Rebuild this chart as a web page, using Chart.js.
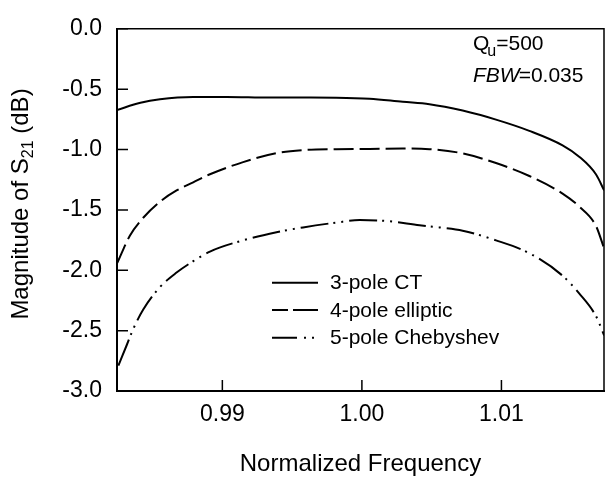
<!DOCTYPE html>
<html><head><meta charset="utf-8">
<script src="https://cdn.jsdelivr.net/npm/chart.js@4/dist/chart.umd.min.js"></script>
<style>html,body{margin:0;padding:0;background:#fff}canvas{display:block}</style>
</head><body>
<canvas id="c" width="605" height="479"></canvas>
<script>
// ---- data ----
const freqCT = [0.98245, 0.98413, 0.98553, 0.98791, 0.99030, 0.99340, 0.99578, 0.99817, 1.00055, 1.00293, 1.00484, 1.00722, 1.00961, 1.01200, 1.01438, 1.01557, 1.01677, 1.01736];
const magCT  = [-0.672, -0.613, -0.584, -0.565, -0.565, -0.570, -0.570, -0.571, -0.579, -0.605, -0.624, -0.677, -0.752, -0.845, -0.965, -1.059, -1.205, -1.338];

const freqEll = [0.98247, 0.98338, 0.98433, 0.98553, 0.98672, 0.98791, 0.98911, 0.99149, 0.99388, 0.99578, 0.99817, 1.00055, 1.00293, 1.00484, 1.00722, 1.00961, 1.01200, 1.01438, 1.01557, 1.01677, 1.01736];
const magEll  = [-1.939, -1.712, -1.565, -1.432, -1.339, -1.272, -1.205, -1.104, -1.030, -1.005, -0.997, -0.995, -0.992, -0.997, -1.032, -1.112, -1.219, -1.365, -1.472, -1.632, -1.819];

const freqCheb = [0.98255, 0.98315, 0.98362, 0.98433, 0.98553, 0.98672, 0.98791, 0.98911, 0.99149, 0.99388, 0.99578, 0.99817, 0.99984, 1.00175, 1.00413, 1.00556, 1.00722, 1.00961, 1.01200, 1.01438, 1.01557, 1.01677, 1.01736];
const magCheb  = [-2.790, -2.619, -2.485, -2.325, -2.139, -2.019, -1.925, -1.845, -1.752, -1.685, -1.645, -1.605, -1.584, -1.592, -1.627, -1.645, -1.672, -1.752, -1.859, -2.045, -2.192, -2.379, -2.539];

const seriesNames = ['3-pole CT', '4-pole elliptic', '5-pole Chebyshev'];
const xTickValues = [0.99, 1.00, 1.01];
const yTickValues = [0.0, -0.5, -1.0, -1.5, -2.0, -2.5, -3.0];
const xRange = [0.98245, 1.01735];
const yRange = [-3.0, 0.0];

// ---- styles ----
const FONT = '"Liberation Sans", Arial, Helvetica, sans-serif';
const dashes = [[], [20, 6], [28, 5, 2, 6, 2, 6]];
const legendDashes = [[], [16, 5, 30], [25, 7, 2, 6, 2, 20]];

function pts(xs, ys) { return xs.map((x, i) => ({ x: x, y: ys[i] })); }

const decor = {
  id: 'decor',
  afterDraw(chart) {
    const ctx = chart.ctx;
    const a = chart.chartArea;
    const xs = chart.scales.x, ys = chart.scales.y;
    ctx.save();
    ctx.strokeStyle = '#000';
    ctx.fillStyle = '#000';
    // frame top & right
    ctx.lineWidth = 1.5;
    ctx.beginPath();
    ctx.moveTo(a.left, a.top); ctx.lineTo(a.right, a.top); ctx.lineTo(a.right, a.bottom);
    ctx.stroke();
    // inward ticks
    ctx.lineWidth = 1.5;
    ctx.beginPath();
    yTickValues.forEach(v => { const y = ys.getPixelForValue(v); ctx.moveTo(a.left, y); ctx.lineTo(a.left + 11, y); });
    xTickValues.forEach(v => { const x = xs.getPixelForValue(v); ctx.moveTo(x, a.bottom); ctx.lineTo(x, a.bottom - 11); });
    ctx.stroke();

    // legend
    const rows = [282.7, 310, 337.7];
    ctx.lineWidth = 2;
    ctx.font = '21px ' + FONT;
    ctx.textBaseline = 'middle';
    ctx.textAlign = 'left';
    seriesNames.forEach((n, i) => {
      ctx.setLineDash(legendDashes[i]);
      ctx.beginPath(); ctx.moveTo(272, rows[i]); ctx.lineTo(318, rows[i]); ctx.stroke();
      ctx.setLineDash([]);
      ctx.fillText(n, 330, rows[i] + 1);
    });

    // annotation
    ctx.textBaseline = 'alphabetic';
    ctx.font = '21px ' + FONT;
    ctx.fillText('Q', 473, 50);
    let qx = 473 + ctx.measureText('Q').width - 2;
    ctx.font = '16px ' + FONT;
    ctx.fillText('u', qx, 56);
    qx += ctx.measureText('u').width;
    ctx.font = '21px ' + FONT;
    ctx.fillText('=500', qx, 50);
    ctx.font = 'italic 21px ' + FONT;
    ctx.fillText('FBW', 473, 82);
    const fx = 473 + ctx.measureText('FBW').width - 1;
    ctx.font = '21px ' + FONT;
    ctx.fillText('=0.035', fx, 82);

    // y-axis title with subscript
    const p1 = 'Magnitude of S', sub = '21', p2 = ' (dB)';
    ctx.font = '24px ' + FONT; const w1 = ctx.measureText(p1).width, w3 = ctx.measureText(p2).width;
    ctx.font = '16px ' + FONT; const w2 = ctx.measureText(sub).width;
    const tot = w1 + w2 + w3;
    ctx.translate(28, 204);
    ctx.rotate(-Math.PI / 2);
    let sx = -tot / 2;
    ctx.font = '24px ' + FONT; ctx.fillText(p1, sx, 0); sx += w1;
    ctx.font = '16px ' + FONT; ctx.fillText(sub, sx, 5); sx += w2;
    ctx.font = '24px ' + FONT; ctx.fillText(p2, sx, 0);
    ctx.restore();
  }
};

new Chart(document.getElementById('c'), {
  type: 'line',
  data: {
    datasets: [
      { label: seriesNames[0], data: pts(freqCT, magCT) },
      { label: seriesNames[1], data: pts(freqEll, magEll) },
      { label: seriesNames[2], data: pts(freqCheb, magCheb) }
    ].map((d, i) => Object.assign(d, {
      borderColor: '#000', backgroundColor: '#000', borderWidth: 2,
      borderDash: dashes[i], pointRadius: 0, fill: false,
      cubicInterpolationMode: 'monotone'
    }))
  },
  options: {
    responsive: false,
    animation: false,
    layout: { padding: { left: 0, top: 15, right: 1, bottom: 0 } },
    plugins: { legend: { display: false }, tooltip: { enabled: false } },
    scales: {
      x: {
        type: 'linear', min: xRange[0], max: xRange[1],
        afterBuildTicks: s => { s.ticks = xTickValues.map(v => ({ value: v })); },
        afterFit: s => { s.height = 88; },
        grid: { display: false, drawTicks: false },
        border: { display: true, color: '#000', width: 2 },
        ticks: { color: '#000', font: { family: FONT, size: 23 }, padding: 10, maxRotation: 0,
                 callback: v => Number(v).toFixed(2) },
        title: { display: true, text: 'Normalized Frequency', color: '#000',
                 font: { family: FONT, size: 24 }, padding: { top: 0, bottom: 0 } }
      },
      y: {
        type: 'linear', min: yRange[0], max: yRange[1],
        afterBuildTicks: s => { s.ticks = yTickValues.map(v => ({ value: v })); },
        afterFit: s => { s.width = 117; },
        grid: { display: false, drawTicks: false },
        border: { display: true, color: '#000', width: 2 },
        ticks: { color: '#000', font: { family: FONT, size: 23 }, padding: 15,
                 callback: v => Number(v).toFixed(1) }
      }
    }
  },
  plugins: [decor]
});
</script>
</body></html>
